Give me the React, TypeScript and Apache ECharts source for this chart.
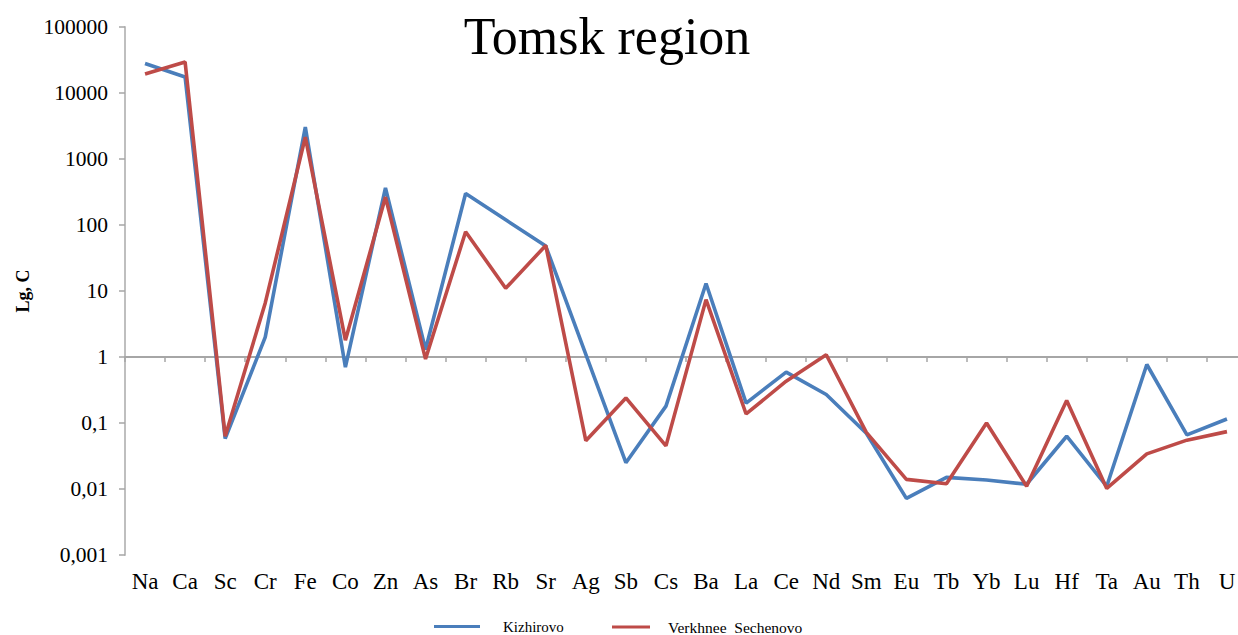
import React, { useEffect, useRef } from "react";
import * as echarts from "echarts";

const elements = ["Na", "Ca", "Sc", "Cr", "Fe", "Co", "Zn", "As", "Br", "Rb", "Sr", "Ag", "Sb", "Cs", "Ba", "La", "Ce", "Nd", "Sm", "Eu", "Tb", "Yb", "Lu", "Hf", "Ta", "Au", "Th", "U"];

const kizhirovo = [28000, 17500, 0.058, 2, 3050, 0.7, 365, 1.3, 300, 120, 48, 1.1, 0.025, 0.18, 13, 0.2, 0.59, 0.27, 0.07, 0.0072, 0.015, 0.0137, 0.0118, 0.063, 0.011, 0.77, 0.066, 0.115];

const verkhneeSechenovo = [19400, 29500, 0.063, 6.6, 2150, 1.8, 265, 0.93, 79, 11, 49, 0.054, 0.24, 0.045, 7.4, 0.137, 0.43, 1.08, 0.072, 0.014, 0.012, 0.1, 0.011, 0.22, 0.0102, 0.034, 0.055, 0.074];

const seriesNames = ["Kizhirovo", "Verkhnee  Sechenovo"];
const colors = ["#4A7EBB", "#BE4B48"];
const title = "Tomsk region";
const yName = "Lg, C";

const FONT = "'Liberation Serif', 'Times New Roman', serif";

export default function App() {
  const ref = useRef<HTMLDivElement>(null);

  useEffect(() => {
    if (!ref.current) return;
    const chart = echarts.init(ref.current, null, { renderer: "svg" });
    const fmt = (v: number) => {
      const e = Math.round(Math.log10(v));
      if (e >= 0) return String(Math.pow(10, e));
      return "0," + "0".repeat(-e - 1) + "1";
    };
    chart.setOption({
      animation: false,
      backgroundColor: "#ffffff",
      textStyle: { fontFamily: FONT },
      grid: { left: 125, top: 27, width: 1122, height: 528, containLabel: false },
      legend: [
        {
          data: [seriesNames[0]],
          left: 429,
          top: 614,
          icon: "rect",
          itemWidth: 46,
          itemHeight: 3,
          textStyle: { fontFamily: FONT, fontSize: 15, color: "#000", padding: [0, 0, 10, 18] },
        },
        {
          data: [seriesNames[1]],
          left: 607,
          top: 614,
          icon: "rect",
          itemWidth: 38,
          itemHeight: 3,
          textStyle: { fontFamily: FONT, fontSize: 15.5, color: "#000", padding: [0, 0, 0, 13] },
        },
      ],
      graphic: [
        {
          type: "text",
          x: 607,
          y: 36,
          style: { text: title, font: `52px ${FONT}`, fill: "#000", align: "center", verticalAlign: "middle" },
        },
        {
          type: "text",
          x: 23,
          y: 291,
          rotation: Math.PI / 2,
          style: { text: yName, font: `bold 18px ${FONT}`, fill: "#000", align: "center", verticalAlign: "middle" },
        },
      ],
      xAxis: [
        {
          type: "category",
          data: elements,
          boundaryGap: true,
          axisLine: { show: false },
          axisTick: { show: false },
          axisLabel: { color: "#000", fontSize: 23, fontFamily: FONT, margin: 15, interval: 0 },
        },
        {
          type: "category",
          data: elements,
          boundaryGap: true,
          position: "bottom",
          offset: -198,
          axisLine: { show: true, lineStyle: { color: "#A6A6A6", width: 2 } },
          axisTick: { show: true, length: 5, lineStyle: { color: "#A6A6A6", width: 1.5 } },
          axisLabel: { show: false },
        },
      ],
      yAxis: {
        type: "log",
        logBase: 10,
        min: 0.001,
        max: 100000,
        splitNumber: 8,
        axisLine: { show: true, lineStyle: { color: "#BFBFBF", width: 2 } },
        axisTick: { show: true, length: 6, lineStyle: { color: "#A6A6A6", width: 1.5 } },
        splitLine: { show: false },
        axisLabel: { color: "#000", fontSize: 21.5, fontFamily: FONT, margin: 17, formatter: fmt },
      },
      series: [
        {
          name: seriesNames[0],
          type: "line",
          data: kizhirovo,
          xAxisIndex: 0,
          symbol: "none",
          lineStyle: { color: colors[0], width: 3.6 },
          itemStyle: { color: colors[0] },
        },
        {
          name: seriesNames[1],
          type: "line",
          data: verkhneeSechenovo,
          xAxisIndex: 0,
          symbol: "none",
          lineStyle: { color: colors[1], width: 3.6 },
          itemStyle: { color: colors[1] },
        },
      ],
    });
    return () => chart.dispose();
  }, []);

  return (
    <div style={{ position: "absolute", left: 0, top: 0, width: 1238, height: 635, overflow: "hidden", background: "#fff" }}>
      <div ref={ref} style={{ width: 1260, height: 635 }} />
    </div>
  );
}
